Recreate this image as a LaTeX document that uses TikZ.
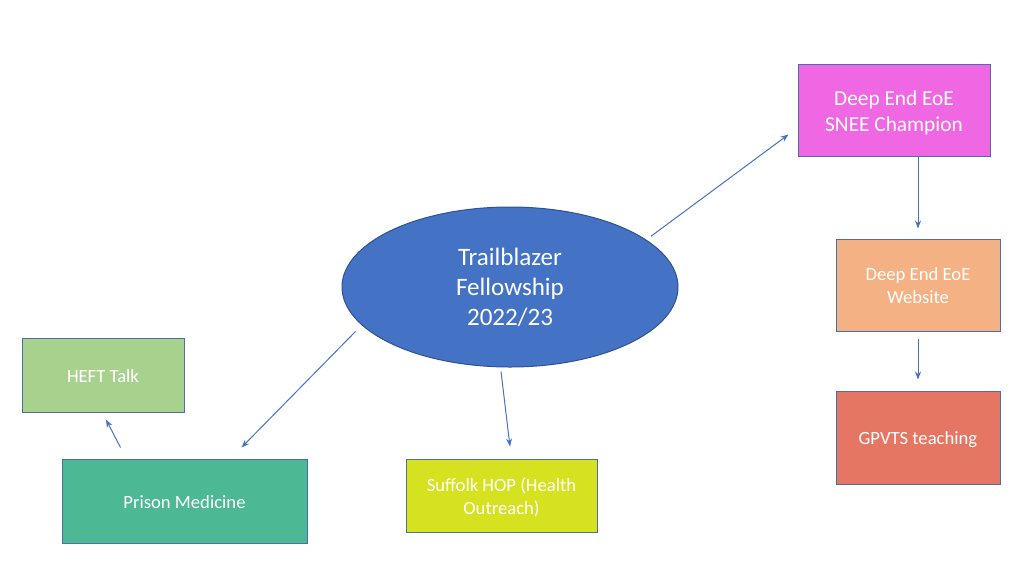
\documentclass[tikz,border=0pt]{standalone}
\usepackage{fontspec}
\setmainfont{Carlito}
\usepackage{xcolor}
\usetikzlibrary{shapes.geometric,arrows.meta}

\definecolor{ellblue}{HTML}{4472C4}
\definecolor{ellline}{HTML}{2F528F}
\definecolor{boxline}{HTML}{4A6FAE}
\definecolor{sneecol}{HTML}{F067E3}
\definecolor{webcol}{HTML}{F4B183}
\definecolor{gpcol}{HTML}{E47663}
\definecolor{heftcol}{HTML}{A9D18E}
\definecolor{prisoncol}{HTML}{4DB894}
\definecolor{hopcol}{HTML}{D6E21F}
\newcommand{\lowtext}[2]{\raisebox{-#1}[\height][\depth]{\begin{tabular}{@{}c@{}}#2\end{tabular}}}

\begin{document}
\begin{tikzpicture}[x=0.75pt, y=-0.75pt,
  box/.style={draw=boxline, line width=0.75pt, text=white, align=center, inner sep=0pt,
    font=\fontsize{14}{17.25}\selectfont},
  arr/.style={draw=ellblue, line width=0.75pt, -{Stealth[length=6pt,width=4.5pt]}}]
  \useasboundingbox (0,0) rectangle (1024,576);
  \node[ellipse, fill=ellblue, draw=ellline, line width=0.75pt, minimum width=252pt, minimum height=120pt,
    inner sep=0pt, text=white, align=center, font=\fontsize{18.8}{22.5}\selectfont]
    (trail) at (510,287) {Trailblazer\\Fellowship\\2022/23};
  \node[box, fill=sneecol, minimum width=144pt, minimum height=69pt, font=\fontsize{16}{19.5}\selectfont]
    (snee) at (894,110) {\lowtext{2.25pt}{Deep End EoE\\SNEE Champion}};
  \node[box, fill=webcol, minimum width=123pt, minimum height=69pt] (web) at (918,285)
    {\lowtext{1.5pt}{Deep End EoE\\Website}};
  \node[box, fill=gpcol, minimum width=123pt, minimum height=69.75pt] (gp) at (918,437.5)
    {\lowtext{1.5pt}{GPVTS teaching}};
  \node[box, fill=heftcol, minimum width=121.5pt, minimum height=55.5pt] (heft) at (103,375)
    {\lowtext{2.25pt}{HEFT Talk}};
  \node[box, fill=prisoncol, minimum width=183.75pt, minimum height=63pt] (prison) at (184.5,501)
    {\lowtext{2.25pt}{Prison Medicine}};
  \node[box, fill=hopcol, minimum width=143.25pt, minimum height=54.75pt] (hop) at (501.5,495.5)
    {\lowtext{2.25pt}{Suffolk HOP (Health\\Outreach)}};

  \draw[arr] ([shift={(7,-2)}]trail.20) -- ([shift={(-9,-22)}]snee.south west);
  \draw[arr] (snee.south -| web.north) -- ([shift={(0,-10)}]web.north);
  \draw[arr] ([shift={(0,7)}]web.south) -- ([shift={(0,-11)}]gp.north);
  \draw[arr] ([shift={(-9,4)}]trail.south) -- ([shift={(8.5,-12)}]hop.north);
  \draw[arr] ([shift={(-10,3)}]trail.196) -- ([shift={(-66,-11)}]prison.north east);
  \draw[arr] ([shift={(59,-11)}]prison.north west) -- ([shift={(3,7)}]heft.south);
\end{tikzpicture}
\end{document}
